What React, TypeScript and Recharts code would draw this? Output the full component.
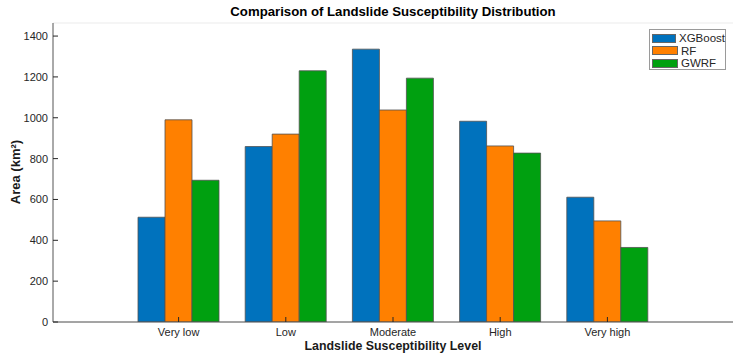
import React from 'react';
import { BarChart, Bar, XAxis, YAxis, CartesianGrid } from 'recharts';

const levels = ['Very low', 'Low', 'Moderate', 'High', 'Very high'];
const xgboost = [513, 859, 1336, 983, 611];
const rf = [990, 920, 1038, 862, 495];
const gwrf = [694, 1230, 1194, 827, 365];
const yTicks = [0, 200, 400, 600, 800, 1000, 1200, 1400];

const series = [
  { key: 'XGBoost', values: xgboost, color: '#0072BD' },
  { key: 'RF', values: rf, color: '#FF8000' },
  { key: 'GWRF', values: gwrf, color: '#00A010' },
];

const data = levels.map((level, i) => {
  const row: Record<string, string | number> = { level };
  series.forEach((s) => {
    row[s.key] = s.values[i];
  });
  return row;
});

const FONT = '"Liberation Sans", Arial, Helvetica, sans-serif';
const AXIS = '#555555';
const TEXT = '#262626';

export default function App() {
  return (
    <div style={{ position: 'absolute', left: 0, top: 0, width: 740, height: 364, background: '#fff', fontFamily: FONT }}>
      <BarChart
        width={740}
        height={364}
        data={data}
        margin={{ top: 23, right: 7, bottom: 0, left: 0 }}
        barCategoryGap={13}
        barGap={0}
      >
        <CartesianGrid vertical={false} horizontal stroke="#ebebeb" strokeWidth={1} />
        <XAxis
          dataKey="level"
          xAxisId="bottom"
          height={42}
          padding={{ left: 72, right: 72 }}
          tickSize={-5}
          tickMargin={11}
          stroke={AXIS}
          tick={{ fill: TEXT, fontSize: 11, fontFamily: FONT }}
          tickLine={{ stroke: TEXT }}
          interval={0}
        />
        <XAxis
          dataKey="level"
          xAxisId="top"
          orientation="top"
          height={0}
          padding={{ left: 72, right: 72 }}
          tickSize={-5}
          tick={false}
          stroke={AXIS}
          tickLine={{ stroke: TEXT }}
          interval={0}
        />
        <YAxis
          yAxisId="left"
          width={53}
          domain={[0, 1464]}
          ticks={yTicks}
          allowDataOverflow
          tickSize={-5}
          tickMargin={10}
          stroke={AXIS}
          tick={{ fill: TEXT, fontSize: 11, fontFamily: FONT }}
          tickLine={{ stroke: TEXT }}
        />
        <YAxis
          yAxisId="right"
          orientation="right"
          width={0}
          domain={[0, 1464]}
          ticks={yTicks}
          allowDataOverflow
          tickSize={-5}
          tick={false}
          stroke={AXIS}
          tickLine={{ stroke: TEXT }}
        />
        {series.map((s) => (
          <Bar
            key={s.key}
            dataKey={s.key}
            xAxisId="bottom"
            yAxisId="left"
            fill={s.color}
            stroke="#505050"
            strokeWidth={0.8}
            isAnimationActive={false}
          />
        ))}
      </BarChart>
      <div
        style={{
          position: 'absolute',
          left: 53,
          width: 680,
          top: 4,
          textAlign: 'center',
          fontWeight: 'bold',
          fontSize: 13.2,
          color: '#000',
        }}
      >
        Comparison of Landslide Susceptibility Distribution
      </div>
      <div
        style={{
          position: 'absolute',
          left: 53,
          width: 680,
          top: 339,
          textAlign: 'center',
          fontWeight: 'bold',
          fontSize: 12.4,
          color: '#1a1a1a',
        }}
      >
        Landslide Susceptibility Level
      </div>
      <div
        style={{
          position: 'absolute',
          left: 15,
          top: 172,
          transform: 'translate(-50%, -50%) rotate(-90deg)',
          whiteSpace: 'nowrap',
          fontWeight: 'bold',
          fontSize: 13,
          color: '#1a1a1a',
        }}
      >
        Area (km²)
      </div>
      <div
        style={{
          position: 'absolute',
          left: 649,
          top: 29,
          width: 77,
          height: 41,
          border: '1px solid #9a9a9a',
          background: '#fff',
          boxSizing: 'border-box',
          paddingTop: 2,
        }}
      >
        {series.map((s) => (
          <div key={s.key} style={{ display: 'flex', alignItems: 'center', height: 12.5 }}>
            <div style={{ width: 26, height: 9, marginLeft: 2, background: s.color, border: '0.5px solid #666', boxSizing: 'border-box' }} />
            <span style={{ marginLeft: 3, fontSize: 11.5, color: TEXT, lineHeight: '12px' }}>{s.key}</span>
          </div>
        ))}
      </div>
    </div>
  );
}
